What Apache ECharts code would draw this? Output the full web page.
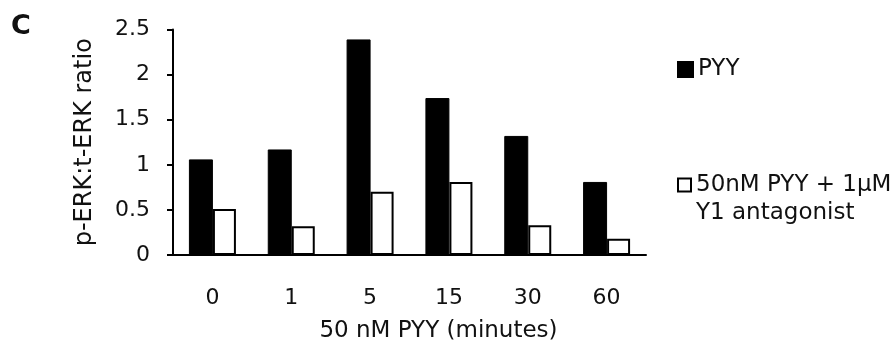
<!DOCTYPE html>
<html>
<head>
<meta charset="utf-8">
<title>p-ERK:t-ERK ratio</title>
<script src="https://cdn.jsdelivr.net/npm/echarts@6/dist/echarts.min.js"></script>
<style>
  html, body { margin: 0; padding: 0; background: #fff; }
  #chart { width: 895px; height: 348px; }
</style>
</head>
<body>
<div id="chart"></div>
<script>
// data
var minutes = ['0', '1', '5', '15', '30', '60']
var pyy = [1.06, 1.17, 2.39, 1.74, 1.32, 0.81]
var pyyAntagonist = [0.51, 0.32, 0.70, 0.81, 0.33, 0.18]
var seriesNames = ['PYY', '50nM PYY + 1μM\nY1 antagonist']

var font = 'DejaVu Sans'
var chart = echarts.init(document.getElementById('chart'))

chart.setOption({
  animation: false,
  title: {
    text: 'C',
    left: 6,
    top: 8,
    textStyle: { fontFamily: font, fontWeight: 'bold', fontSize: 27, color: '#111' }
  },
  legend: [{
    data: [seriesNames[0]],
    left: 672,
    top: 53,
    orient: 'vertical',
    icon: 'rect',
    itemWidth: 15,
    itemHeight: 15,
    textStyle: { fontFamily: font, fontSize: 23, color: '#111' }
  }, {
    data: [seriesNames[1]],
    left: 672,
    top: 138,
    orient: 'vertical',
    icon: 'rect',
    itemWidth: 13,
    itemHeight: 13,
    // blank first line keeps the icon level with the first text line
    formatter: function (name) { return '\n' + name },
    textStyle: { fontFamily: font, fontSize: 23, color: '#111', lineHeight: 28 }
  }],
  grid: {
    left: 173,
    right: 249,
    top: 29.5,
    bottom: 93,
    containLabel: false
  },
  xAxis: {
    type: 'category',
    data: minutes,
    name: '50 nM PYY (minutes)',
    nameLocation: 'middle',
    nameGap: 65,
    nameTextStyle: { fontFamily: font, fontSize: 23, color: '#111', padding: [0, 0, 0, 58] },
    axisLine: { lineStyle: { color: '#000', width: 2 } },
    axisTick: { show: false },
    axisLabel: { fontFamily: font, fontSize: 22, color: '#111', margin: 32 }
  },
  yAxis: {
    type: 'value',
    min: 0,
    max: 2.5,
    interval: 0.5,
    name: 'p-ERK:t-ERK ratio',
    nameLocation: 'middle',
    nameGap: 76,
    nameTextStyle: { fontFamily: font, fontSize: 24, color: '#111' },
    axisLine: { show: true, lineStyle: { color: '#000', width: 2 } },
    axisTick: { show: true, inside: false, length: 6, lineStyle: { color: '#000', width: 2 } },
    axisLabel: { fontFamily: font, fontSize: 22, color: '#111', margin: 23 },
    splitLine: { show: false }
  },
  series: [{
    name: seriesNames[0],
    type: 'bar',
    data: pyy,
    barWidth: 24,
    barGap: '0%',
    itemStyle: { color: '#000', borderColor: '#000', borderWidth: 1 }
  }, {
    name: seriesNames[1],
    type: 'bar',
    data: pyyAntagonist,
    barWidth: 23,
    itemStyle: { color: '#fff', borderColor: '#000', borderWidth: 2 }
  }]
})
</script>
</body>
</html>
